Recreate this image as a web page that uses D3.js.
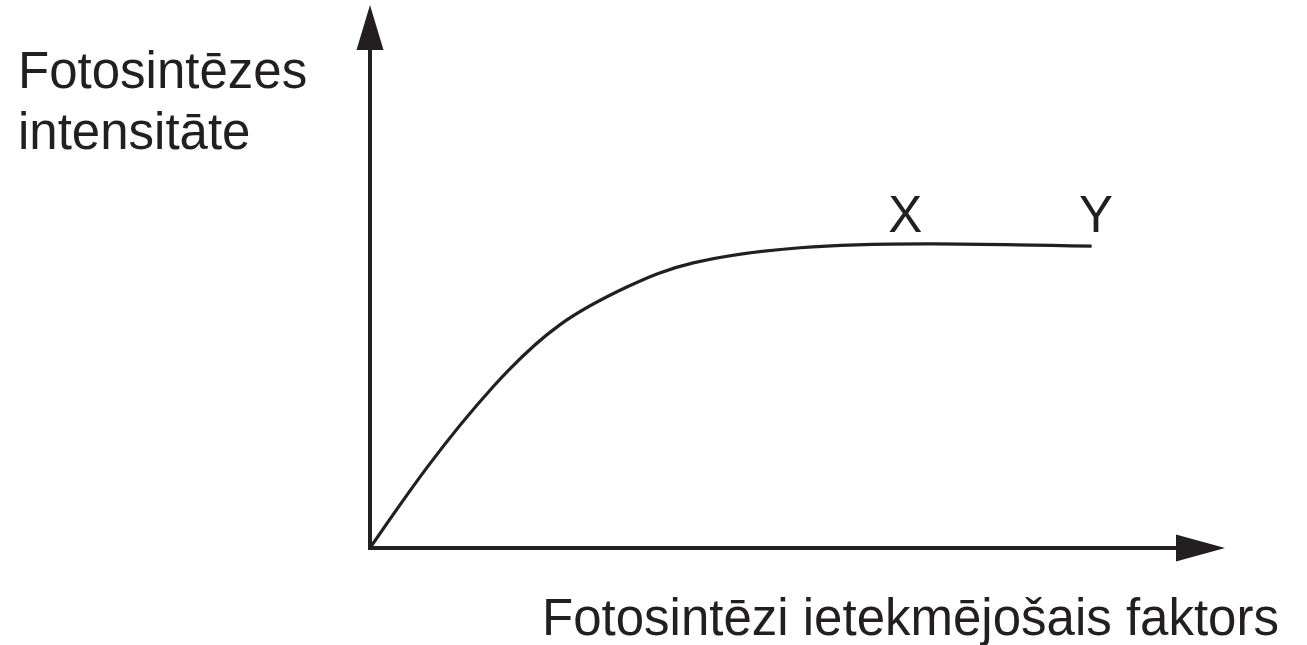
<!DOCTYPE html>
<html>
<head>
<meta charset="utf-8">
<script src="https://cdn.jsdelivr.net/npm/d3@7"></script>
<style>
  html, body { margin: 0; padding: 0; background: #fff; }
  svg { display: block; }
  text { font-family: "Liberation Sans", Arial, sans-serif; fill: #231f20; }
</style>
</head>
<body>
<div id="chart"></div>
<script>
// curve (axis units 0..100)
var factor    = [0, 6.7, 14.4, 22.2, 30.1, 37.8, 50.3, 65.9, 84.4];
var intensity = [0, 14.9, 29.7, 41.1, 48.1, 52.5, 55.3, 56.0, 55.6];

var yTitle = ["Fotosintēzes", "intensitāte"];
var xTitle = "Fotosintēzi ietekmējošais faktors";
var pointLabels = ["X", "Y"];
var pointLabelX = [62.6, 84.9];

function drawChart() {
  var w = 1307, h = 645;
  var ink = "#231f20";

  var svg = d3.select("#chart")
    .append("svg")
    .attr("width", w)
    .attr("height", h);

  var xScale = d3.scaleLinear().domain([0, 100]).range([370, 1225]);
  var yScale = d3.scaleLinear().domain([0, 100]).range([548, 5]);

  var dataset = factor.map((d, i) => ({x: d, y: intensity[i]}));

  //Create axes (no ticks, just the lines)
  var xAxis = d3.axisBottom(xScale).tickValues([]).tickSizeOuter(0);
  var yAxis = d3.axisLeft(yScale).tickValues([]).tickSizeOuter(0);

  var gx = svg.append("g")
    .attr("transform", "translate(0," + yScale(0) + ")")
    .call(xAxis);
  gx.select(".domain")
    .attr("stroke", ink)
    .attr("stroke-width", 4)
    .attr("d", "M" + (xScale(0) - 2) + ",0H" + (xScale(100) - 40));

  var gy = svg.append("g")
    .attr("transform", "translate(" + xScale(0) + ",0)")
    .call(yAxis);
  gy.select(".domain")
    .attr("stroke", ink)
    .attr("stroke-width", 4)
    .attr("d", "M0," + (yScale(0) + 2) + "V" + (yScale(100) + 35));

  //Arrow heads
  var tipX = xScale(100), tipY = yScale(100);
  svg.append("path")
    .attr("d", "M" + tipX + "," + yScale(0) + "L" + (tipX - 49) + "," + (yScale(0) - 13.5) +
               "L" + (tipX - 49) + "," + (yScale(0) + 13.5) + "Z")
    .attr("fill", ink);
  svg.append("path")
    .attr("d", "M" + xScale(0) + "," + tipY + "L" + (xScale(0) - 13.5) + "," + (tipY + 45) +
               "L" + (xScale(0) + 13.5) + "," + (tipY + 45) + "Z")
    .attr("fill", ink);

  //Draw curve
  var line = d3.line()
    .x(d => xScale(d.x))
    .y(d => yScale(d.y))
    .curve(d3.curveNatural);

  svg.append("path")
    .datum(dataset)
    .attr("d", line)
    .attr("fill", "none")
    .attr("stroke", ink)
    .attr("stroke-width", 3.2)
    .attr("stroke-linecap", "butt");

  //Labels
  svg.selectAll(".ytitle")
    .data(yTitle)
    .enter()
    .append("text")
    .attr("class", "ytitle")
    .attr("x", 18)
    .attr("y", (d, i) => 88 + i * 61)
    .attr("font-size", 51)
    .text(d => d);

  svg.append("text")
    .attr("x", 542)
    .attr("y", 635)
    .attr("font-size", 51)
    .text(xTitle);

  svg.selectAll(".plabel")
    .data(pointLabels)
    .enter()
    .append("text")
    .attr("class", "plabel")
    .attr("x", (d, i) => xScale(pointLabelX[i]))
    .attr("y", 232)
    .attr("text-anchor", "middle")
    .attr("font-size", 51)
    .text(d => d);
}

window.onload = function () {
  drawChart();
};
</script>
</body>
</html>
